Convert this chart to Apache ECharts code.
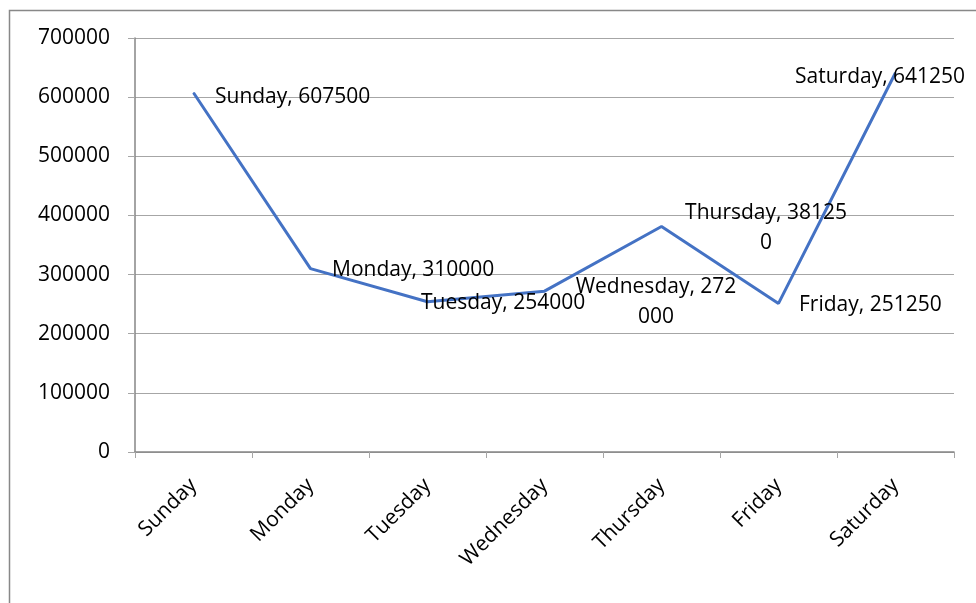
<!DOCTYPE html>
<html><head><meta charset="utf-8">
<script src="https://cdn.jsdelivr.net/npm/echarts@6/dist/echarts.min.js"></script>
<style>html,body{margin:0;padding:0;background:#fff}#c{width:976px;height:603px}</style>
</head><body><div id="c"></div>
<script>
const categories = ['Sunday','Monday','Tuesday','Wednesday','Thursday','Friday','Saturday'];
const values = [607500, 310000, 254000, 272000, 381250, 251250, 641250];
const yTicks = [0, 100000, 200000, 300000, 400000, 500000, 600000, 700000];
// characters after which the data label wraps (0 = no wrap)
const labelWrap = [0, 0, 0, 14, 15, 0, 0];

const FONT = '"Open Sans", "Noto Sans", sans-serif';
// label placement relative to each point: [dx, dy, align]
const labelPos = [
  [22, 5, 'left'],
  [22, 2, 'left'],
  [-6, 2, 'left'],
  [112, 11, 'center'],
  [105, 2, 'center'],
  [21, 2, 'left'],
  [-100, 5, 'left']
];
const seriesData = values.map((v, i) => ({
  value: v,
  label: {position: [labelPos[i][0], labelPos[i][1]], align: labelPos[i][2], verticalAlign: 'middle'}
}));

const chart = echarts.init(document.getElementById('c'), null, {renderer: 'canvas'});
chart.setOption({
  animation: false,
  backgroundColor: '#fff',
  graphic: [{type:'rect', shape:{x:9.5, y:10.5, width:2000, height:2000}, style:{fill:'none', stroke:'#888', lineWidth:1.5}, silent:true}],
  grid: {left: 135, right: 22, top: 38, bottom: 151},
  xAxis: {
    type: 'category', data: categories, boundaryGap: true,
    axisLine: {lineStyle: {color: '#868686', width: 1.5}},
    axisTick: {show: true, length: 6, lineStyle: {color: '#a6a6a6'}},
    axisLabel: {rotate: 45, fontSize: 21, color: '#000', fontFamily: FONT, margin: 30}
  },
  yAxis: {
    type: 'value', min: 0, max: 700000, interval: 100000,
    axisLine: {show: true, lineStyle: {color: '#868686', width: 1.5}},
    axisTick: {show: true, length: 7, lineStyle: {color: '#a6a6a6'}},
    splitLine: {lineStyle: {color: '#a6a6a6', width: 1.2}},
    axisLabel: {fontSize: 21, color: '#000', fontFamily: FONT, margin: 25,
      formatter: v => yTicks.includes(v) ? String(v) : ''}
  },
  series: [{
    type: 'line', data: seriesData, showSymbol: true, symbol: 'circle', symbolSize: 1,
    itemStyle: {color: '#4472C4'},
    lineStyle: {color: '#4472C4', width: 3},
    label: {show: true, fontSize: 21, color: '#000', fontFamily: FONT, lineHeight: 30,
      formatter: p => {
        const s = p.name + ', ' + p.value;
        const w = labelWrap[p.dataIndex];
        return w ? s.slice(0, w) + '\n' + s.slice(w) : s;
      }}
  }]
});
</script></body></html>
